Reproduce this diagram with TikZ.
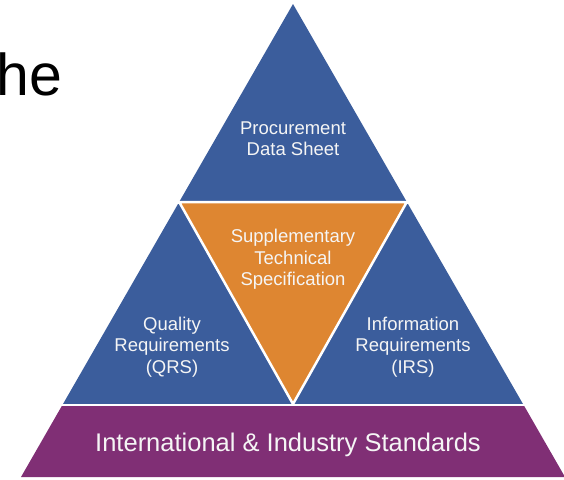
\documentclass[tikz,border=0pt]{standalone}
\usepackage{fontspec}
\setmainfont{Liberation Sans}
\usetikzlibrary{calc}
\definecolor{pblue}{RGB}{59,93,156}
\definecolor{porange}{RGB}{222,134,49}
\definecolor{ppurple}{RGB}{128,47,117}
\definecolor{ptext}{RGB}{245,245,245}
\tikzset{
  seg/.style={draw=white, line width=2.5pt, line join=miter},
  lbl/.style={text=ptext, align=center, inner sep=0pt, font=\fontsize{18.5}{21.3}\selectfont},
}
\begin{document}
\begin{tikzpicture}[x=1pt,y=-1pt]
\useasboundingbox (0,0) rectangle (564,479);
% outer blue triangle
\coordinate (A) at (293,4);
\coordinate (BL) at (63,404);
\coordinate (BR) at (523,404);
\fill[pblue] (A) -- (BL) -- (BR) -- cycle;
% separator between top triangle and middle row
\coordinate (ML) at (179.2,202);
\coordinate (MR) at (406.8,202);
\coordinate (MB) at (293,404);
\draw[white, line width=3pt] ($(ML)+(-3,0)$) -- ($(MR)+(3,0)$);
% orange inverted triangle
\filldraw[fill=porange, seg] (ML) -- (MR) -- (MB) -- cycle;
% purple base
\coordinate (PTL) at (61.8,406);
\coordinate (PTR) at (524.2,406);
\coordinate (PBR) at (565,477);
\coordinate (PBL) at (21,477);
\draw[white, line width=2.5pt] (40,405) -- (546,405);
\fill[ppurple] (PTL) -- (PTR) -- (PBR) -- (PBL) -- cycle;
% texts
\node[lbl] (pds) at (293,138.5) {Procurement\\Data Sheet};
\node[lbl] (sts) at (293,259.5) {Supplementary\\Technical\\Specification};
\node[lbl] (qrs) at (172,347) {Quality\\Requirements\\(QRS)};
\node[lbl] (irs) at (413,347) {Information\\Requirements\\(IRS)};
\node[lbl, font=\fontsize{25.5}{30}\selectfont] (iis) at (288,445) {International \& Industry Standards};
\node[anchor=base west, inner sep=0pt, font=\fontsize{59}{70}\selectfont] (he) at (-4,95) {he};
\end{tikzpicture}
\end{document}
